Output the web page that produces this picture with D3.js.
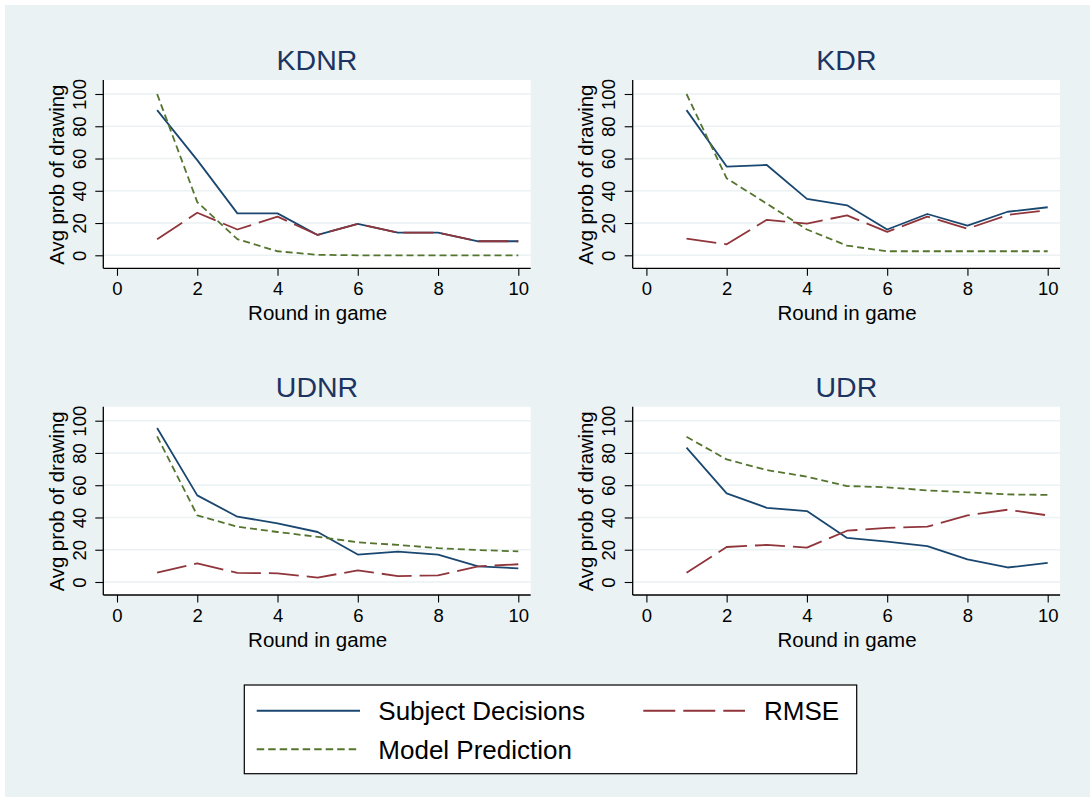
<!DOCTYPE html>
<html>
<head>
<meta charset="utf-8">
<script src="https://cdn.jsdelivr.net/npm/d3@7/dist/d3.min.js"></script>
<style>
  html, body { margin: 0; padding: 0; background: #ffffff; }
  svg { display: block; font-family: "Liberation Sans", Arial, sans-serif; }
</style>
</head>
<body>
<svg id="chart" width="1090" height="797"></svg>
<script>
// Rounds 1..10 of the game
const rounds = [1, 2, 3, 4, 5, 6, 7, 8, 9, 10];
const panelNames = ["KDNR", "KDR", "UDNR", "UDR"];

// Average probability of drawing (%), by treatment
const subjectKDNR = [90, 59, 26, 26, 12.6, 19.5, 14, 14, 8.7, 8.7];
const modelKDNR   = [100, 33, 10, 2.5, 0.3, 0, 0, 0, 0, 0];
const rmseKDNR    = [10, 26.4, 16, 24, 12.6, 19.5, 14, 14, 8.7, 8.7];

const subjectKDR = [90, 55, 56, 35, 31, 16, 25.6, 18.4, 27, 29.8];
const modelKDR   = [100, 47.7, 32, 16, 6, 2.5, 2.5, 2.5, 2.5, 2.5];
const rmseKDR    = [10.3, 6.8, 22, 19.6, 24.8, 14.5, 24, 16.5, 25, 28];

const subjectUDNR = [95.5, 53.7, 40.5, 36.4, 31, 17, 18.8, 17, 9.7, 8.5];
const modelUDNR   = [90.3, 41.3, 34.3, 31, 28, 24.6, 23, 21, 19.8, 19];
const rmseUDNR    = [5.8, 11.6, 5.6, 5.4, 2.7, 7.2, 3.7, 4.1, 9.7, 11];

const subjectUDR = [83.3, 55, 46, 44, 27.3, 25, 22.3, 14, 9, 11.8];
const modelUDR   = [90, 76, 69.4, 65.3, 59.5, 58.7, 56.8, 55.6, 54.3, 54];
const rmseUDR    = [5.8, 21.7, 23, 21.3, 31.8, 33.5, 34.3, 41.3, 44.8, 41.3];

const xTicks = [0, 2, 4, 6, 8, 10];
const yTicks = [0, 20, 40, 60, 80, 100];

const seriesNames = ["Subject Decisions", "Model Prediction", "RMSE"];

const panels = [
  { name: panelNames[0], subject: subjectKDNR, model: modelKDNR, rmse: rmseKDNR },
  { name: panelNames[1], subject: subjectKDR,  model: modelKDR,  rmse: rmseKDR },
  { name: panelNames[2], subject: subjectUDNR, model: modelUDNR, rmse: rmseUDNR },
  { name: panelNames[3], subject: subjectUDR,  model: modelUDR,  rmse: rmseUDR }
];

const colors = { subject: "#1a476f", model: "#55752f", rmse: "#90353b" };
const dashes = { subject: null, model: "7,4", rmse: "30,8" };

const svg = d3.select("#chart");

// graph region background
svg.append("rect").attr("x", 5).attr("y", 5).attr("width", 1085).attr("height", 792)
  .attr("fill", "#eaf2f3");

const plotW = 427.4, plotH = 188.3;
const axisLeft = [103.3, 632.7];
const plotTop = [80, 406.7];

panels.forEach((p, i) => {
  const col = i % 2, row = Math.floor(i / 2);
  const left = axisLeft[col], top = plotTop[row];
  const g = svg.append("g").attr("transform", `translate(${left},${top})`);

  const x = d3.scaleLinear().domain([0, 10]).range([13.7, plotW - 12.4]);
  const y = d3.scaleLinear().domain([0, 100]).range([plotH - 13, 14]);

  // plot region
  g.append("rect").attr("width", plotW).attr("height", plotH).attr("fill", "#ffffff");

  // horizontal grid
  g.selectAll("line.grid").data(yTicks).enter().append("line")
    .attr("x1", 0).attr("x2", plotW)
    .attr("y1", d => y(d)).attr("y2", d => y(d))
    .attr("stroke", "#eaf2f3").attr("stroke-width", 1.6);

  // series lines
  const line = d3.line().x((d, k) => x(rounds[k])).y(d => y(d));
  ["subject", "model", "rmse"].forEach(key => {
    g.append("path").datum(p[key])
      .attr("d", line)
      .attr("fill", "none")
      .attr("stroke", colors[key])
      .attr("stroke-width", 1.8)
      .attr("stroke-linejoin", "round")
      .attr("stroke-dasharray", dashes[key]);
  });

  // x axis
  const xAxis = g.append("g").attr("transform", `translate(0,${plotH})`)
    .call(d3.axisBottom(x).tickValues(xTicks).tickSize(7.5).tickPadding(6).tickSizeOuter(0));
  xAxis.select(".domain").attr("d", `M0,0H${plotW}`).attr("stroke", "#000").attr("stroke-width", 1.3);
  xAxis.selectAll(".tick line").attr("stroke", "#000").attr("stroke-width", 1.1);
  xAxis.selectAll(".tick text").attr("font-size", 18.5).attr("fill", "#000")
    .attr("font-family", "Liberation Sans, Arial, sans-serif");

  // y axis
  const yAxis = g.append("g")
    .call(d3.axisLeft(y).tickValues(yTicks).tickSize(8).tickSizeOuter(0));
  yAxis.select(".domain").attr("d", `M0,0V${plotH}`).attr("stroke", "#000").attr("stroke-width", 1.3);
  yAxis.selectAll(".tick line").attr("stroke", "#000").attr("stroke-width", 1.1);
  yAxis.selectAll(".tick text")
    .attr("x", 0).attr("dy", null)
    .attr("text-anchor", "middle")
    .attr("dominant-baseline", "central")
    .attr("transform", "translate(-24.3,0) rotate(-90)")
    .attr("font-size", 18.5).attr("fill", "#000")
    .attr("font-family", "Liberation Sans, Arial, sans-serif");

  // axis titles
  g.append("text")
    .attr("x", (x(0) + x(10)) / 2).attr("y", plotH + 44.5)
    .attr("text-anchor", "middle").attr("dominant-baseline", "central")
    .attr("font-size", 20.5).attr("fill", "#000")
    .text("Round in game");
  g.append("text")
    .attr("transform", `translate(-46.6,${(y(0) + y(100)) / 2}) rotate(-90)`)
    .attr("text-anchor", "middle").attr("dominant-baseline", "central")
    .attr("font-size", 20.3).attr("fill", "#000")
    .text("Avg prob of drawing");

  // panel title
  g.append("text")
    .attr("x", plotW / 2).attr("y", -10)
    .attr("text-anchor", "middle")
    .attr("font-size", 28.5).attr("fill", "#1c3461")
    .text(p.name);
});

// legend
const lg = svg.append("g");
lg.append("rect").attr("x", 244.3).attr("y", 685).attr("width", 612.4).attr("height", 88.7)
  .attr("fill", "#ffffff").attr("stroke", "#000").attr("stroke-width", 1.2);

const legendItems = [
  { key: "subject", label: seriesNames[0], x: 256.7, y: 710.7, len: 103.3, tx: 378.3, dash: null },
  { key: "model",   label: seriesNames[1], x: 256.7, y: 749.2, len: 103.3, tx: 378.3, dash: "7.5,4" },
  { key: "rmse",    label: seriesNames[2], x: 643.3, y: 710.7, len: 101.7, tx: 764,   dash: "32,8" }
];
legendItems.forEach(it => {
  lg.append("line")
    .attr("x1", it.x).attr("x2", it.x + it.len)
    .attr("y1", it.y).attr("y2", it.y)
    .attr("stroke", colors[it.key]).attr("stroke-width", 2)
    .attr("stroke-dasharray", it.dash);
  lg.append("text")
    .attr("x", it.tx).attr("y", it.y + 9.5)
    .attr("font-size", 26).attr("fill", "#000")
    .text(it.label);
});
</script>
</body>
</html>
